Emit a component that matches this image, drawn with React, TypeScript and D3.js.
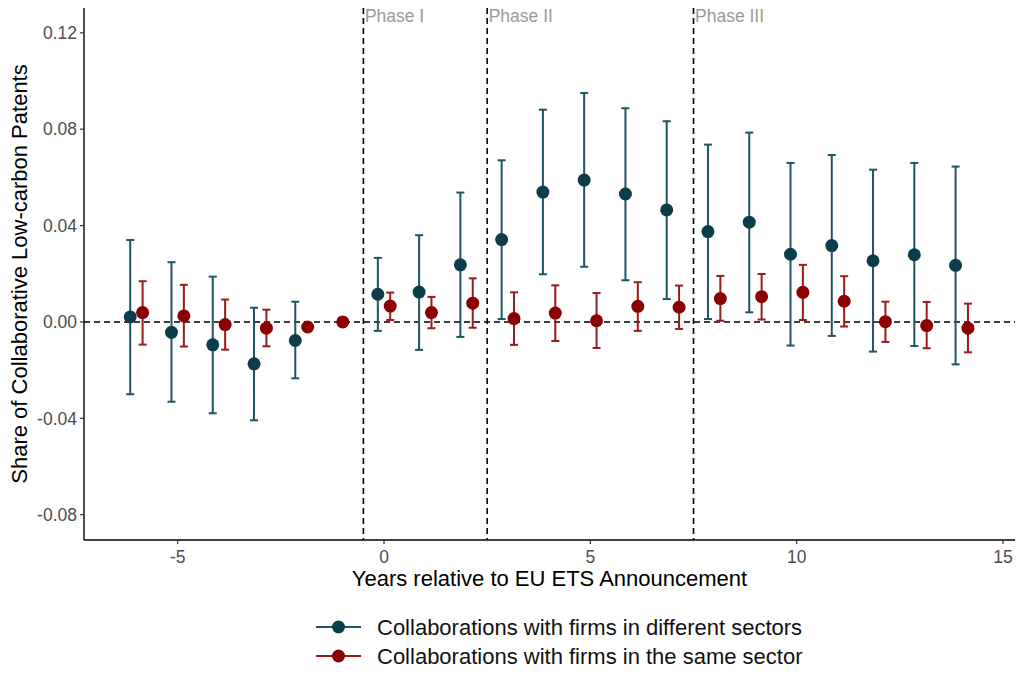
import React from 'react';
import * as d3 from 'd3';

const years = [-6, -5, -4, -3, -2, -1, 0, 1, 2, 3, 4, 5, 6, 7, 8, 9, 10, 11, 12, 13, 14];

// collaborations with firms in different sectors (no estimate at -1, the reference year)
const diffEst = [0.0021, -0.0043, -0.0095, -0.0174, -0.0077, null, 0.0115, 0.0124, 0.0237, 0.0342, 0.0539, 0.0589, 0.0531, 0.0465, 0.0375, 0.0414, 0.0281, 0.0317, 0.0254, 0.0279, 0.0235];
const diffHi = [0.034, 0.0248, 0.0188, 0.0059, 0.0084, null, 0.0266, 0.036, 0.0537, 0.0671, 0.0881, 0.095, 0.0887, 0.0833, 0.0736, 0.0786, 0.066, 0.0693, 0.0632, 0.066, 0.0645];
const diffLo = [-0.030, -0.0331, -0.0379, -0.0408, -0.0234, null, -0.0037, -0.0116, -0.0062, 0.0012, 0.0198, 0.0229, 0.0173, 0.0095, 0.0012, 0.004, -0.0098, -0.0058, -0.0123, -0.01, -0.0176];

// collaborations with firms in the same sector
const sameEst = [0.0039, 0.0025, -0.0011, -0.0026, -0.0021, 0, 0.0066, 0.0039, 0.0078, 0.0014, 0.0037, 0.0005, 0.0065, 0.0061, 0.0097, 0.0105, 0.0123, 0.0086, 0.0001, -0.0015, -0.0026];
const sameHi = [0.0169, 0.0154, 0.0093, 0.0051, -0.0012, 0, 0.0122, 0.0104, 0.0181, 0.0123, 0.0152, 0.012, 0.0165, 0.0151, 0.0191, 0.0199, 0.0237, 0.019, 0.0084, 0.0083, 0.0076];
const sameLo = [-0.0094, -0.0102, -0.0115, -0.0101, -0.003, 0, 0.0008, -0.0026, -0.0024, -0.0095, -0.0079, -0.0108, -0.0037, -0.0029, 0.0005, 0.001, 0.0008, -0.0019, -0.0083, -0.0109, -0.0126];

const phaseLines = [-0.5, 2.5, 7.5];
const phaseLabels = ['Phase I', 'Phase II', 'Phase III'];

const xTicks = [-5, 0, 5, 10, 15];
const yTicks = [-0.08, -0.04, 0, 0.04, 0.08, 0.12];

const seriesNames = ['Collaborations with firms in different sectors', 'Collaborations with firms in the same sector'];
const seriesColors = ['#0b3d4b', '#8b0000'];
const barColors = ['#1f5462', '#9b1a1a'];

const font = '"Liberation Sans", Arial, sans-serif';

const App = () => {
  const left = 84, right = 1015, top = 8, bottom = 540;
  const x = d3.scaleLinear().domain([-7.27, 15.29]).range([left, right]);
  const y = d3.scaleLinear().domain([-0.0905, 0.1303]).range([bottom, top]);
  const dodge = 0.15;

  const series = [
    { est: diffEst, hi: diffHi, lo: diffLo, off: -dodge },
    { est: sameEst, hi: sameHi, lo: sameLo, off: dodge },
  ];

  return (
    <svg width={1024} height={683} style={{ position: 'absolute', left: 0, top: 0 }} fontFamily={font}>
      <rect width={1024} height={683} fill="#fff" />
      {/* zero line */}
      <line x1={left} x2={right} y1={y(0)} y2={y(0)} stroke="#000" strokeWidth={1.6} strokeDasharray="6,4" />
      {/* phase lines */}
      {phaseLines.map((p, i) => (
        <g key={i}>
          <line x1={x(p)} x2={x(p)} y1={top} y2={bottom} stroke="#000" strokeWidth={1.6} strokeDasharray="6,4" />
          <text x={x(p) + 1.5} y={22} fontSize={17.5} fill="#9a9a9a">{phaseLabels[i]}</text>
        </g>
      ))}
      {/* series */}
      {series.map((s, si) => (
        <g key={si}>
          {years.map((yr, i) => {
            const e = s.est[i];
            if (e === null) return null;
            const cx = yr === -1 ? x(yr) : x(yr + s.off);
            const hi = s.hi[i] as number, lo = s.lo[i] as number;
            const showBar = Math.abs(y(lo) - y(hi)) > 6;
            return (
              <g key={i}>
                {showBar && (
                  <g stroke={barColors[si]} strokeWidth={2}>
                    <line x1={cx} x2={cx} y1={y(hi)} y2={y(lo)} />
                    <line x1={cx - 4} x2={cx + 4} y1={y(hi)} y2={y(hi)} />
                    <line x1={cx - 4} x2={cx + 4} y1={y(lo)} y2={y(lo)} />
                  </g>
                )}
                <circle cx={cx} cy={y(e)} r={6.5} fill={seriesColors[si]} />
              </g>
            );
          })}
        </g>
      ))}
      {/* axes */}
      <line x1={left} x2={left} y1={top} y2={bottom} stroke="#000" strokeWidth={1.4} />
      <line x1={left} x2={right} y1={bottom} y2={bottom} stroke="#000" strokeWidth={1.4} />
      {yTicks.map((t) => (
        <g key={t}>
          <line x1={left - 4} x2={left} y1={y(t)} y2={y(t)} stroke="#333" strokeWidth={1.2} />
          <text x={left - 7} y={y(t)} dy="0.36em" textAnchor="end" fontSize={17.5} fill="#4d4d4d">
            {d3.format('.2f')(t).replace('−', '-')}
          </text>
        </g>
      ))}
      {xTicks.map((t) => (
        <g key={t}>
          <line x1={x(t)} x2={x(t)} y1={bottom} y2={bottom + 4} stroke="#333" strokeWidth={1.2} />
          <text x={x(t)} y={bottom + 23} textAnchor="middle" fontSize={17.5} fill="#4d4d4d">
            {String(t)}
          </text>
        </g>
      ))}
      <text x={(left + right) / 2} y={586} textAnchor="middle" fontSize={22} fill="#000">
        Years relative to EU ETS Announcement
      </text>
      <text transform={`translate(27, ${(top + bottom) / 2}) rotate(-90)`} textAnchor="middle" fontSize={22} fill="#000">
        Share of Collaborative Low-carbon Patents
      </text>
      {/* legend */}
      {seriesNames.map((n, i) => (
        <g key={n} transform={`translate(0, ${627 + i * 29})`}>
          <line x1={316} x2={361} y1={0} y2={0} stroke={barColors[i]} strokeWidth={2} />
          <circle cx={338.5} cy={0} r={6.5} fill={seriesColors[i]} />
          <text x={377} y={0} dy="0.36em" fontSize={22} fill="#111">{n}</text>
        </g>
      ))}
    </svg>
  );
};

export default App;
